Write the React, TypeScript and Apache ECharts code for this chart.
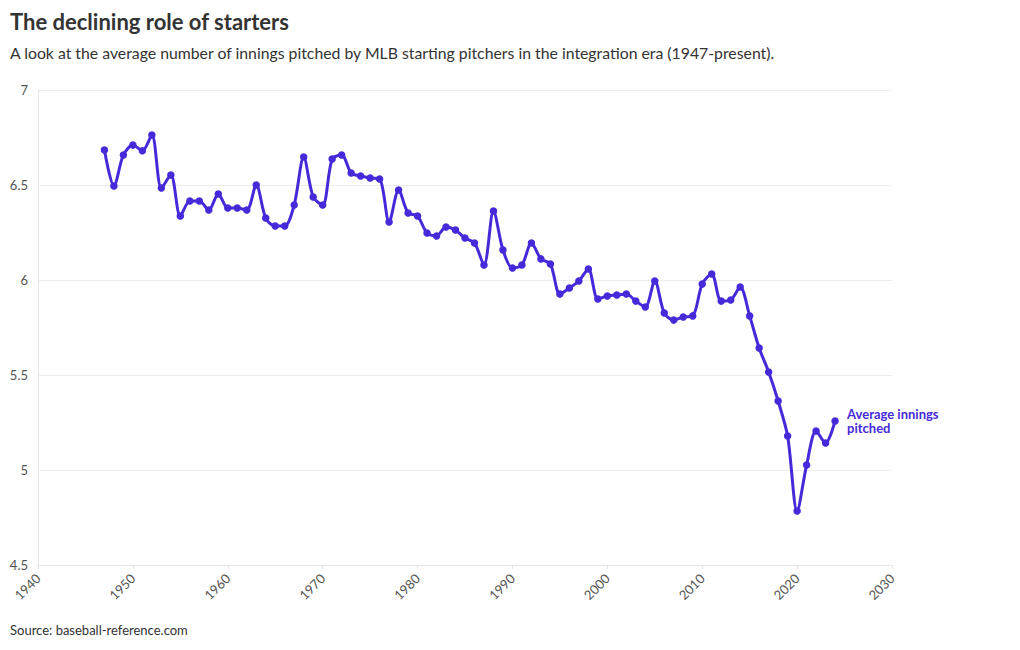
import React, { useEffect, useRef } from "react";
import * as echarts from "echarts";

const years: number[] = [];
for (let y = 1947; y <= 2024; y++) years.push(y);

const innings: number[] = [
  6.684, 6.495, 6.658, 6.71, 6.68, 6.763, 6.484, 6.553, 6.337, 6.416,
  6.416, 6.368, 6.453, 6.379, 6.379, 6.368, 6.5, 6.326, 6.284, 6.284,
  6.395, 6.647, 6.437, 6.395, 6.637, 6.658, 6.563, 6.547, 6.537, 6.532,
  6.305, 6.474, 6.353, 6.337, 6.247, 6.232, 6.279, 6.263, 6.221, 6.195,
  6.079, 6.363, 6.158, 6.063, 6.079, 6.195, 6.111, 6.084, 5.926, 5.958,
  5.995, 6.058, 5.9, 5.916, 5.921, 5.926, 5.889, 5.858, 5.995, 5.826,
  5.789, 5.805, 5.811, 5.979, 6.032, 5.889, 5.895, 5.963, 5.811, 5.642,
  5.516, 5.363, 5.179, 4.784, 5.026, 5.205, 5.142, 5.258,
];

const seriesName = "Average innings pitched";
const title = "The declining role of starters";
const subtitle =
  "A look at the average number of innings pitched by MLB starting pitchers in the integration era (1947-present).";
const source = "Source: baseball-reference.com";

const FONT = "'Source Sans Pro', Lato, 'Noto Sans', sans-serif";
const LINE = "#4629d9";

export default function App() {
  const ref = useRef<HTMLDivElement>(null);
  useEffect(() => {
    document.body.style.margin = "0";
    if (!ref.current) return;
    const chart = echarts.init(ref.current, undefined, { renderer: "svg" });
    chart.setOption({
      animation: false,
      textStyle: { fontFamily: FONT },
      graphic: [
        {
          type: "text",
          left: 10,
          top: 10,
          style: { text: title, fontSize: 22, fontWeight: "bold", fill: "#333", fontFamily: FONT },
        },
        {
          type: "text",
          left: 10,
          top: 44,
          style: { text: subtitle, fontSize: 15.8, fill: "#333", fontFamily: FONT },
        },
        {
          type: "text",
          left: 10,
          top: 623,
          style: { text: source, fontSize: 13, fill: "#333", fontFamily: FONT },
        },
      ],
      grid: { left: 38, right: 128, top: 90, bottom: 85, containLabel: false },
      xAxis: {
        type: "value",
        min: 1940,
        max: 2030,
        interval: 10,
        axisLine: { show: true, lineStyle: { color: "#e6e6e6" } },
        axisTick: { show: true, length: 4, lineStyle: { color: "#e6e6e6" } },
        splitLine: { show: false },
        axisLabel: {
          rotate: 45,
          color: "#555",
          fontSize: 13,
          fontFamily: FONT,
          margin: 11,
          formatter: (v: number) => String(v),
        },
      },
      yAxis: {
        type: "value",
        min: 4.5,
        max: 7,
        interval: 0.5,
        axisLine: { show: true, lineStyle: { color: "#e6e6e6" } },
        axisTick: { show: false },
        splitLine: { show: true, lineStyle: { color: "#ececec" } },
        axisLabel: {
          color: "#555",
          fontSize: 13,
          fontFamily: FONT,
          margin: 10,
          formatter: (v: number) => String(v),
        },
      },
      series: [
        {
          name: seriesName,
          type: "line",
          data: years.map((y, i) => [y, innings[i]]),
          smooth: 0.3,
          symbol: "circle",
          symbolSize: 7.5,
          lineStyle: { color: LINE, width: 3 },
          itemStyle: { color: LINE },
          endLabel: {
            show: true,
            formatter: "Average innings\npitched",
            color: LINE,
            fontWeight: "bold",
            fontSize: 13,
            lineHeight: 14,
            fontFamily: FONT,
            distance: 12,
          },
        },
      ],
    });
    return () => chart.dispose();
  }, []);
  return <div ref={ref} style={{ width: 1020, height: 650 }} />;
}
